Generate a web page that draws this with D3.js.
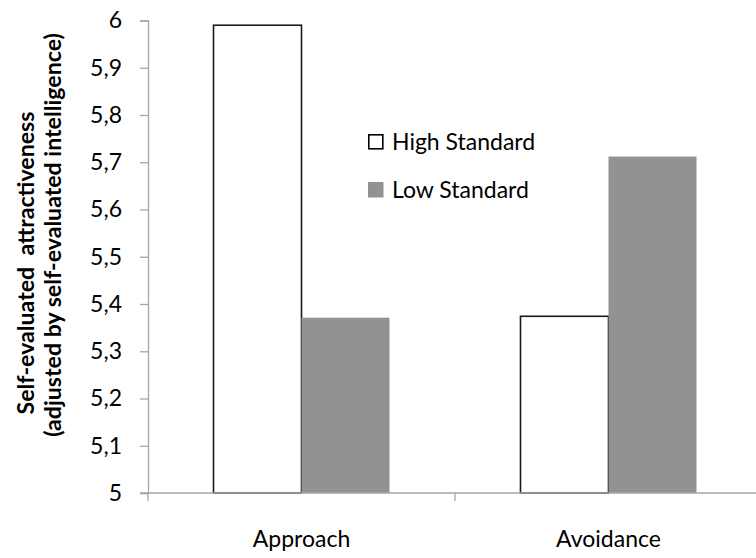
<!DOCTYPE html>
<html>
<head>
<meta charset="utf-8">
<script src="https://cdn.jsdelivr.net/npm/d3@7"></script>
<style>
  body { margin: 0; background: #fff; }
  text { font-family: Lato, "Open Sans", sans-serif; fill: #000; }
</style>
</head>
<body>
<div id="chart"></div>
<script>
// data
const groups = ["Approach", "Avoidance"];
const seriesNames = ["High Standard", "Low Standard"];
const highValues = [5.99, 5.374];
const lowValues = [5.371, 5.712];
const yTicks = [5, 5.1, 5.2, 5.3, 5.4, 5.5, 5.6, 5.7, 5.8, 5.9, 6];
const titleLines = ["Self-evaluated  attractiveness", "(adjusted by self-evaluated intelligence)"];

const width = 756, height = 558;
const margin = {top: 20.5, left: 148, bottom: 65};
const plotW = 614; // runs past the right edge like the original

const svg = d3.select("#chart").append("svg")
    .attr("width", width)
    .attr("height", height);

const x0 = d3.scaleBand()
    .domain(groups)
    .range([margin.left, margin.left + plotW]);
const x1 = d3.scaleBand()
    .domain(seriesNames)
    .range([0, 176]);
const y = d3.scaleLinear()
    .domain([5, 6])
    .range([height - margin.bottom, margin.top]);

let rows = groups.map((g, i) => ({group: g, vals: [
    {s: seriesNames[0], v: highValues[i]},
    {s: seriesNames[1], v: lowValues[i]}
]}));

// bars
let gBar = svg.selectAll(".grp").data(rows).enter().append("g")
    .attr("transform", d => "translate(" + (x0(d.group) + (x0.bandwidth() - 176) / 2) + ",0)");
gBar.selectAll("rect").data(d => d.vals).enter().append("rect")
    .attr("x", d => x1(d.s))
    .attr("y", d => y(d.v))
    .attr("width", x1.bandwidth())
    .attr("height", d => y(5) - y(d.v))
    .attr("fill", d => d.s === seriesNames[0] ? "#fff" : "#929292")
    .attr("stroke", d => d.s === seriesNames[0] ? "#1a1a1a" : "none")
    .attr("stroke-width", 1.6);

// y axis
let yAxis = svg.append("g")
    .attr("transform", "translate(" + margin.left + ",0)")
    .call(d3.axisLeft(y).tickValues(yTicks).tickSize(8).tickPadding(18)
        .tickFormat(d => d3.format(".1~f")(d).replace(".", ",")));
yAxis.select(".domain").attr("stroke", "#a6a6a6").attr("stroke-width", 1.3);
yAxis.selectAll("line").attr("stroke", "#a6a6a6").attr("stroke-width", 1.3);
yAxis.selectAll("text").attr("font-size", 23).attr("fill", "#000")
    .style("font-family", "Lato, sans-serif");

// x axis
let xAxis = svg.append("g")
    .attr("transform", "translate(0," + y(5) + ")");
xAxis.append("line")
    .attr("x1", margin.left - 8).attr("x2", margin.left + plotW)
    .attr("stroke", "#a6a6a6").attr("stroke-width", 1.3);
xAxis.selectAll(".sep").data([margin.left, x0(groups[1])]).enter().append("line")
    .attr("x1", d => d).attr("x2", d => d)
    .attr("y1", 0).attr("y2", 8)
    .attr("stroke", "#a6a6a6").attr("stroke-width", 1.3);
xAxis.selectAll(".lbl").data(groups).enter().append("text")
    .attr("x", d => x0(d) + x0.bandwidth() / 2)
    .attr("y", 54)
    .attr("text-anchor", "middle")
    .attr("font-size", 23)
    .text(d => d);

// y title, two lines; size it so the long line is about 404px
let title = svg.append("g")
    .attr("font-weight", "bold")
    .attr("font-size", 20);
let t1 = title.append("text")
    .attr("transform", "translate(34,263) rotate(-90)")
    .attr("text-anchor", "middle")
    .style("white-space", "pre")
    .text(titleLines[0]);
let t2 = title.append("text")
    .attr("transform", "translate(61,235) rotate(-90)")
    .attr("text-anchor", "middle")
    .text(titleLines[1]);
let len = t2.node().getComputedTextLength();
if (len > 0) title.attr("font-size", 20 * 404 / len);

// legend
let legend = svg.selectAll(".leg").data(seriesNames).enter().append("g")
    .attr("transform", (d, i) => "translate(368," + (134 + i * 48) + ")");
legend.append("rect")
    .attr("x", d => d === seriesNames[0] ? 0.8 : 0)
    .attr("y", d => d === seriesNames[0] ? 0.8 : 0)
    .attr("width", d => d === seriesNames[0] ? 14 : 15.5)
    .attr("height", d => d === seriesNames[0] ? 14 : 15.5)
    .attr("fill", d => d === seriesNames[0] ? "#fff" : "#929292")
    .attr("stroke", d => d === seriesNames[0] ? "#000" : "none")
    .attr("stroke-width", 1.6);
legend.append("text")
    .attr("x", 24)
    .attr("y", 16)
    .attr("font-size", 23)
    .text(d => d);
</script>
</body>
</html>
